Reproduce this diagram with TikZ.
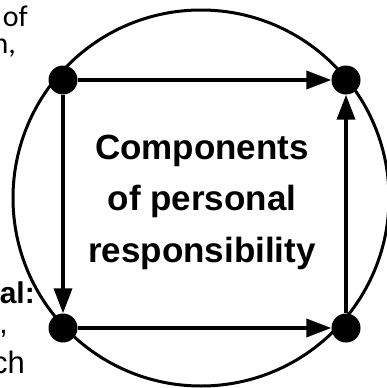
\documentclass[tikz,border=0pt]{standalone}
\usepackage{fontspec}
\setmainfont{Liberation Sans}
\newfontfamily\sidefont{Carlito}
\usetikzlibrary{arrows.meta}

\tikzset{
  dot/.style={circle, fill=black, inner sep=0pt, minimum size=29pt},
  link/.style={line width=3.5pt, -{Triangle[length=25pt, width=18pt]}}
}

\begin{document}
\begin{tikzpicture}[x=1pt, y=-1pt]
\useasboundingbox (0,0) rectangle (387,388);

% Outer circle
\draw[line width=3pt] (201,198) circle (188);

% Corner points
\node[dot] (TL) at (63,80) {};
\node[dot] (TR) at (346,80) {};
\node[dot] (BL) at (63,328) {};
\node[dot] (BR) at (346,328) {};

% Arrows between the points
\draw[link] (TL) -- (TR);
\draw[link] (TL) -- (BL);
\draw[link] (BL) -- (BR);
\draw[link] (BR) -- (TR);

% Centre label
\node[align=center, font=\bfseries\fontsize{35}{51.5}\selectfont] (title) at (202,202)
  {Components\\of personal\\responsibility};

% Cut-off text at the left edge
\node[anchor=base east, inner sep=0pt, font=\sidefont\fontsize{30}{30}\selectfont] (of) at (28,27) {of};
\node[anchor=base east, inner sep=0pt, font=\sidefont\fontsize{30}{30}\selectfont] (ncomma) at (16,53) {n,};
\node[anchor=base east, inner sep=0pt, font=\bfseries\fontsize{30}{30}\selectfont] (al) at (35,303) {al:};
\node[anchor=base east, inner sep=0pt, font=\fontsize{30}{30}\selectfont] (comma) at (8,333) {,};
\node[anchor=base east, inner sep=0pt, font=\fontsize{31}{30}\selectfont] (ch) at (25,373) {ch};

\end{tikzpicture}
\end{document}
